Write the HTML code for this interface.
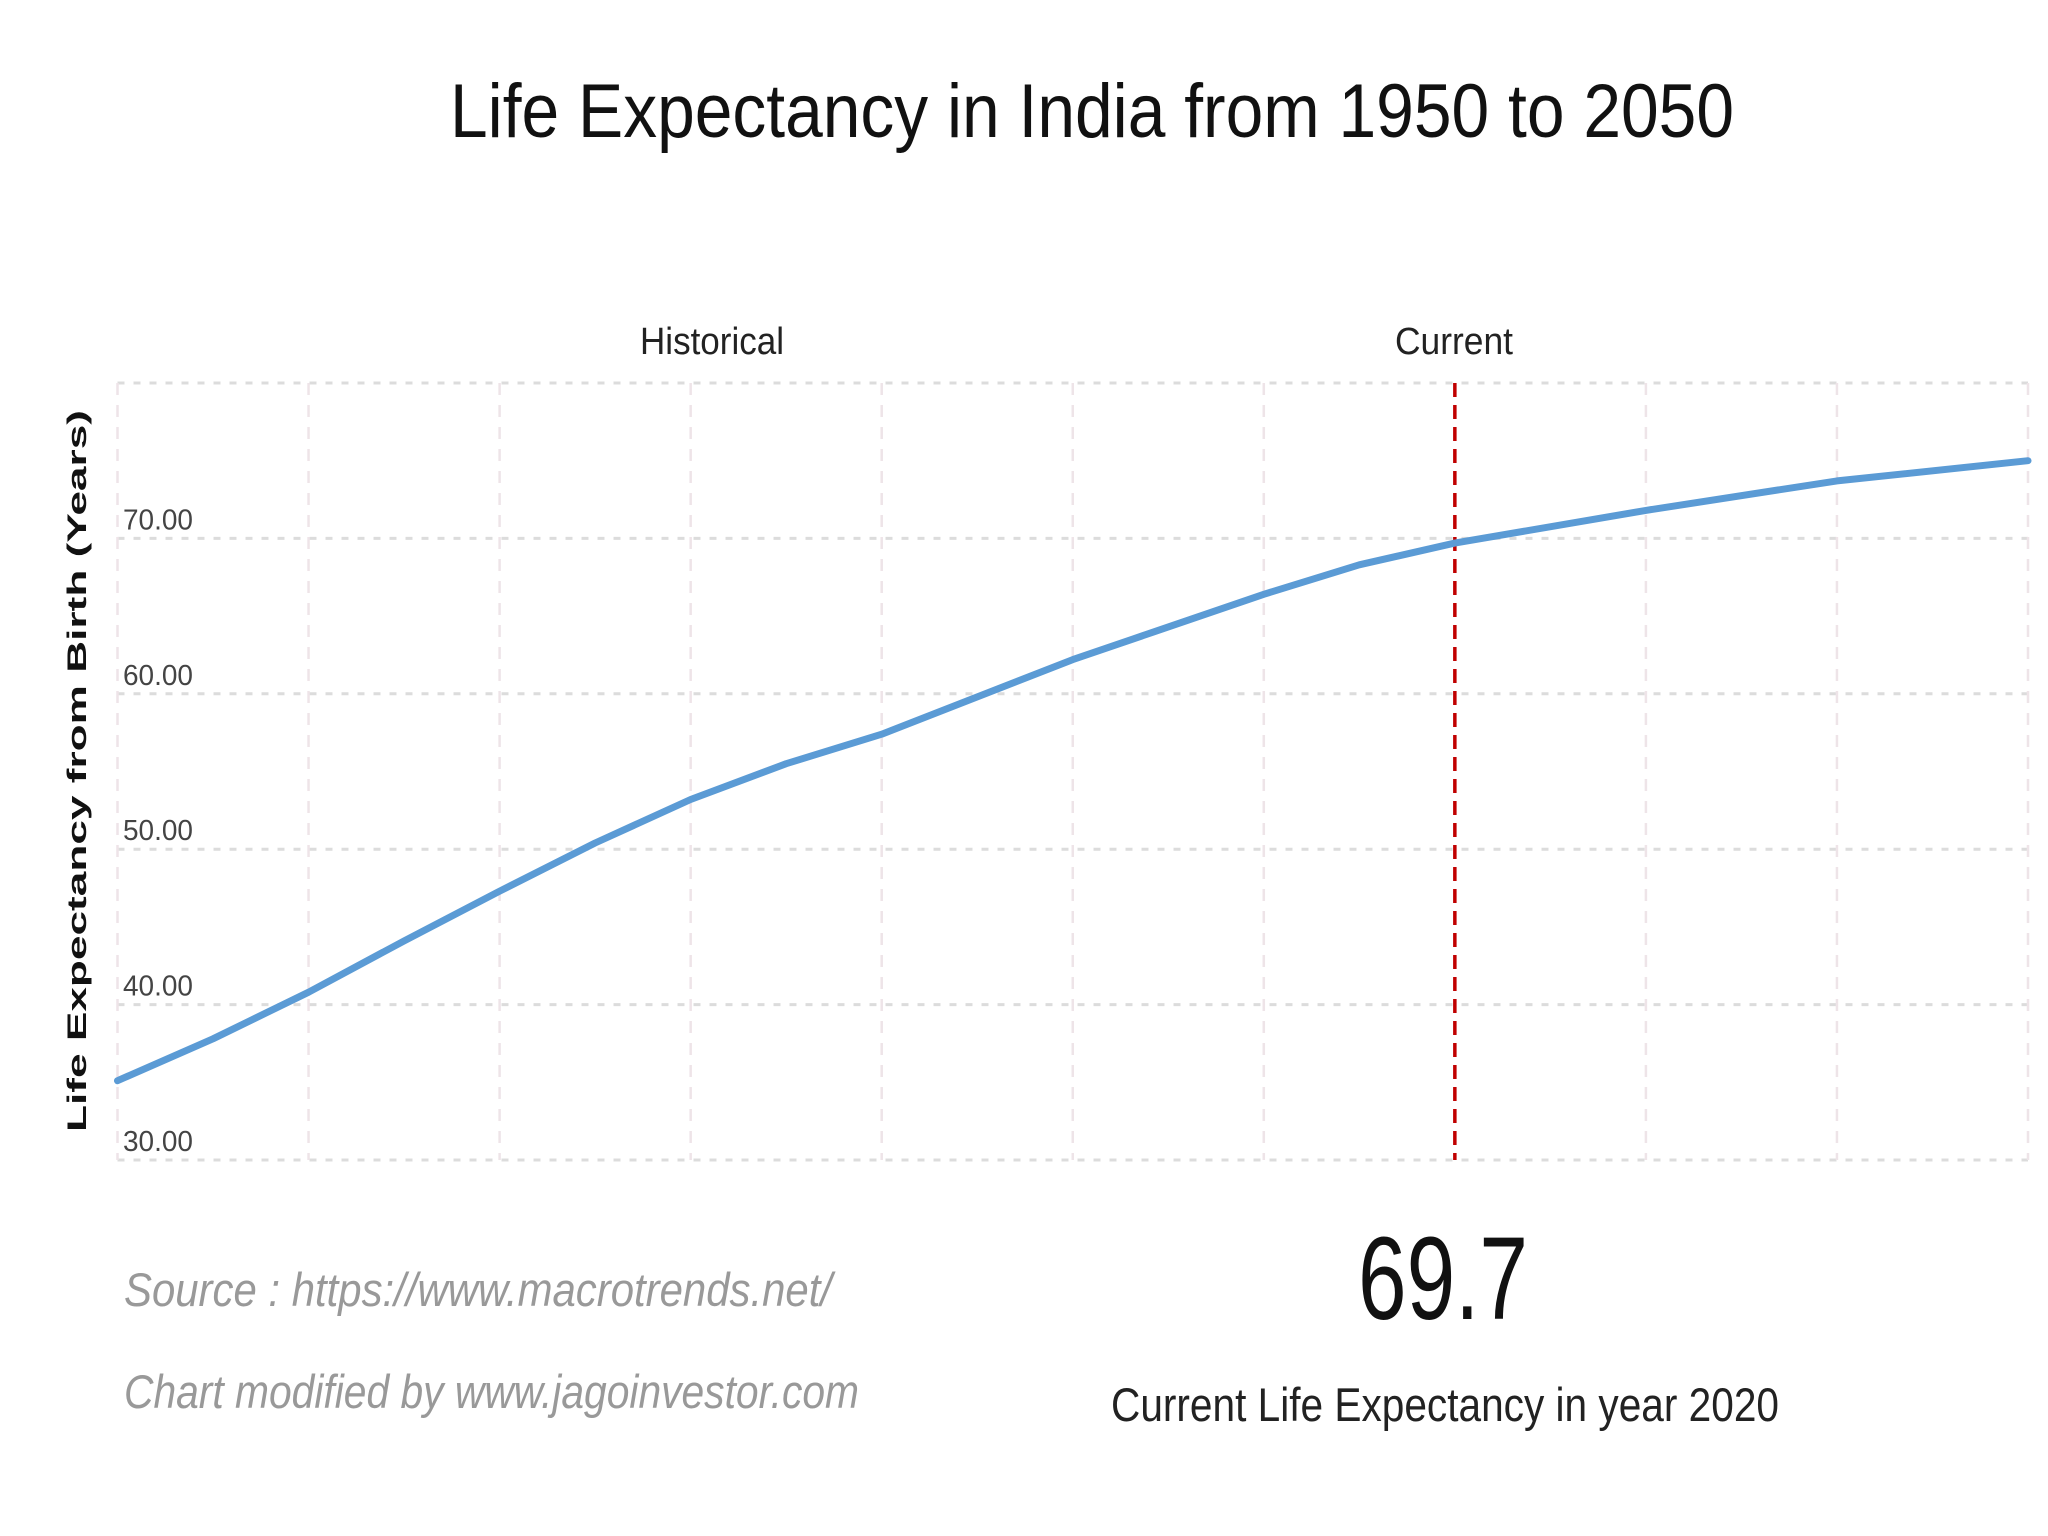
<!DOCTYPE html>
<html><head><meta charset="utf-8"><style>
html,body{margin:0;padding:0;background:#fff;}
svg{display:block;}
text{font-family:"Liberation Sans",sans-serif;}
</style></head><body>
<svg id="chart" width="2048" height="1536" viewBox="0 0 2048 1536">
<rect x="0" y="0" width="2048" height="1536" fill="#ffffff"/>
<text x="1092" y="137" text-anchor="middle" font-size="76" fill="#111" textLength="1284" lengthAdjust="spacingAndGlyphs">Life Expectancy in India from 1950 to 2050</text>
<text x="712" y="354" text-anchor="middle" font-size="38" fill="#222" textLength="144" lengthAdjust="spacingAndGlyphs">Historical</text>
<text x="1454" y="354" text-anchor="middle" font-size="38" fill="#222" textLength="118" lengthAdjust="spacingAndGlyphs">Current</text>
<g id="grid"></g>
<g id="yticks"></g>
<text transform="translate(86,771) rotate(-90)" text-anchor="middle" font-size="27" font-weight="bold" fill="#111" textLength="722" lengthAdjust="spacingAndGlyphs">Life Expectancy from Birth (Years)</text>
<line id="currentLine" stroke="#c00000" stroke-width="3.5" stroke-dasharray="14,8"/>
<path id="series" fill="none" stroke="#5b9bd5" stroke-width="7" stroke-linejoin="round" stroke-linecap="round"/>
<text x="124" y="1306" font-size="47" font-style="italic" fill="#999" textLength="708" lengthAdjust="spacingAndGlyphs">Source : https://www.macrotrends.net/</text>
<text x="124" y="1408" font-size="47" font-style="italic" fill="#999" textLength="735" lengthAdjust="spacingAndGlyphs">Chart modified by www.jagoinvestor.com</text>
<text x="1443" y="1319" text-anchor="middle" font-size="118" fill="#111" textLength="170" lengthAdjust="spacingAndGlyphs">69.7</text>
<text x="1445" y="1421" text-anchor="middle" font-size="47" fill="#222" textLength="668" lengthAdjust="spacingAndGlyphs">Current Life Expectancy in year 2020</text>
</svg>
<script>
const years = [1950,1955,1960,1965,1970,1975,1980,1985,1990,2000,2010,2015,2020,2030,2040,2050];
const lifeExpectancy = [35.1,37.8,40.8,44.1,47.3,50.4,53.2,55.5,57.4,62.2,66.4,68.3,69.7,71.8,73.7,75.0];
const yTicks = [30,40,50,60,70];
const yTickLabels = ["30.00","40.00","50.00","60.00","70.00"];
const xGridYears = [1950,1960,1970,1980,1990,2000,2010,2030,2040,2050];
const currentYear = [2020];

const NS = "http://www.w3.org/2000/svg";
const X0 = 117.5, X1 = 2028, Y0 = 1160, Y1 = 383;
function xScale(yr){ return X0 + (yr-1950)/(2050-1950)*(X1-X0); }
function yScale(v){ return Y0 - (v-30)/(80-30)*(Y0-Y1); }

const grid = document.getElementById('grid');
[30,40,50,60,70,80].forEach(v=>{
  const l = document.createElementNS(NS,'line');
  
  
  l.setAttribute('x1',X0); l.setAttribute('x2',X1);
  l.setAttribute('y1',yScale(v)); l.setAttribute('y2',yScale(v));
  l.setAttribute('stroke','#dcdcdc'); l.setAttribute('stroke-width','3'); l.setAttribute('stroke-dasharray','7,9');
  grid.appendChild(l);
});
xGridYears.forEach(yr=>{
  const l = document.createElementNS(NS,'line');
  
  
  l.setAttribute('x1',xScale(yr)); l.setAttribute('x2',xScale(yr));
  l.setAttribute('y1',Y1); l.setAttribute('y2',Y0);
  l.setAttribute('stroke','#eee4e8'); l.setAttribute('stroke-width','2.5'); l.setAttribute('stroke-dasharray','12,10');
  grid.appendChild(l);
});
const yt = document.getElementById('yticks');
yTicks.forEach((v,i)=>{
  const t = document.createElementNS(NS,'text');
  
  
  t.setAttribute('x',123); t.setAttribute('y',yScale(v)-9);
  t.setAttribute('font-size','29'); t.setAttribute('fill','#444');
  t.setAttribute('textLength','70'); t.setAttribute('lengthAdjust','spacingAndGlyphs');
  t.textContent = yTickLabels[i];
  yt.appendChild(t);
});
const cl = document.getElementById('currentLine');
cl.setAttribute('x1',xScale(currentYear[0])); cl.setAttribute('x2',xScale(currentYear[0]));
cl.setAttribute('y1',Y1); cl.setAttribute('y2',Y0);
let d = '';
years.forEach((yr,i)=>{ d += (i?'L':'M') + xScale(yr).toFixed(1) + ',' + yScale(lifeExpectancy[i]).toFixed(1); });
document.getElementById('series').setAttribute('d',d);
</script>
</body></html>
